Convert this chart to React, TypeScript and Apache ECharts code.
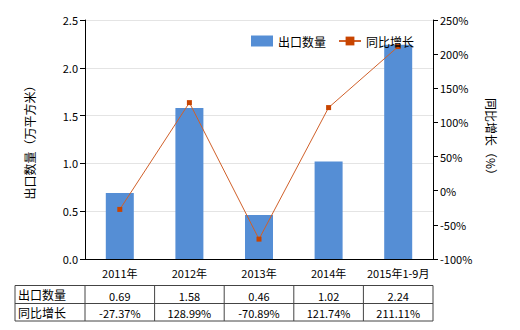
import React, { useEffect, useRef } from "react";
import * as echarts from "echarts";

const categories = ["2011年", "2012年", "2013年", "2014年", "2015年1-9月"];
const exportQty = [0.69, 1.58, 0.46, 1.02, 2.24];
const yoyGrowth = [-27.37, 128.99, -70.89, 121.74, 211.11];
const qtyLabels = ["0.69", "1.58", "0.46", "1.02", "2.24"];
const growthLabels = ["-27.37%", "128.99%", "-70.89%", "121.74%", "211.11%"];
const rowNames = ["出口数量", "同比增长"];

const FONT = "'Noto Sans CJK SC', 'DejaVu Sans', sans-serif";

export default function App() {
  const ref = useRef<HTMLDivElement>(null);
  useEffect(() => {
    if (!ref.current) return;
    const chart = echarts.init(ref.current, undefined, { renderer: "svg" });
    const gridLeft = 85;
    const gridRight = 433;
    const colW = (gridRight - gridLeft) / categories.length;
    const tableLeft = 15;
    const rowTops = [285.5, 303.5, 321];
    const lineStyle = { stroke: "#444", lineWidth: 1 };
    const graphics: any[] = [];
    rowTops.forEach((y) => {
      graphics.push({ type: "line", shape: { x1: tableLeft, y1: y, x2: gridRight, y2: y }, style: lineStyle, silent: true });
    });
    const xs = [tableLeft, ...categories.map((_, i) => gridLeft + i * colW), gridRight];
    xs.forEach((x) => {
      graphics.push({ type: "line", shape: { x1: x, y1: rowTops[0], x2: x, y2: rowTops[2] }, style: lineStyle, silent: true });
    });
    const rows = [qtyLabels, growthLabels];
    rows.forEach((vals, r) => {
      const cy = (rowTops[r] + rowTops[r + 1]) / 2;
      graphics.push({
        type: "text",
        x: tableLeft + 3,
        y: cy,
        style: { text: rowNames[r], font: `12px ${FONT}`, fill: "#000", textVerticalAlign: "middle", textAlign: "left" },
      });
      vals.forEach((v, i) => {
        graphics.push({
          type: "text",
          x: gridLeft + (i + 0.5) * colW,
          y: cy + 1,
          style: { text: v, font: `11px ${FONT}`, fill: "#000", textVerticalAlign: "middle", textAlign: "center" },
        });
      });
    });

    chart.setOption({
      animation: false,
      textStyle: { fontFamily: FONT },
      grid: { left: gridLeft, right: 520 - gridRight, top: 20, bottom: 71, containLabel: false },
      legend: {
        left: 246,
        top: 30,
        itemWidth: 22,
        itemHeight: 11,
        itemGap: 12,
        textStyle: { fontSize: 12, color: "#000", fontFamily: FONT },
        data: [
          { name: "出口数量", icon: "rect" },
          { name: "同比增长" },
        ],
      },
      xAxis: {
        type: "category",
        data: categories,
        axisLine: { lineStyle: { color: "#000" } },
        axisTick: { alignWithLabel: true, length: 5, lineStyle: { color: "#000" } },
        axisLabel: { color: "#000", fontSize: 11, margin: 8, interval: 0 },
      },
      yAxis: [
        {
          type: "value",
          min: 0,
          max: 2.5,
          interval: 0.5,
          name: "出口数量（万平方米）",
          nameLocation: "middle",
          nameGap: 50,
          nameRotate: 90,
          nameTextStyle: { color: "#000", fontSize: 12 },
          axisLine: { show: true, lineStyle: { color: "#000" } },
          axisTick: { show: true, length: 5, lineStyle: { color: "#000" } },
          axisLabel: { color: "#000", fontSize: 11, margin: 7, formatter: (v: number) => v.toFixed(1) },
          splitLine: { show: true, lineStyle: { color: "#e4e4e4" } },
        },
        {
          type: "value",
          min: -100,
          max: 250,
          interval: 50,
          position: "right",
          name: "同比增长（%）",
          nameLocation: "middle",
          nameGap: 52,
          nameRotate: -90,
          nameTextStyle: { color: "#000", fontSize: 12 },
          axisLine: { show: true, lineStyle: { color: "#000" } },
          axisTick: { show: true, length: 5, lineStyle: { color: "#000" } },
          axisLabel: { color: "#000", fontSize: 11, margin: 7, formatter: "{value}%" },
          splitLine: { show: false },
        },
      ],
      series: [
        {
          name: "出口数量",
          type: "bar",
          data: exportQty,
          barWidth: 28,
          itemStyle: { color: "#558ed5" },
          yAxisIndex: 0,
        },
        {
          name: "同比增长",
          type: "line",
          data: yoyGrowth,
          yAxisIndex: 1,
          symbol: "rect",
          symbolSize: 5,
          lineStyle: { color: "#d0602a", width: 1 },
          itemStyle: { color: "#c84400" },
        },
      ],
      graphic: graphics,
    });
    return () => chart.dispose();
  }, []);
  return <div ref={ref} style={{ width: 520, height: 330, position: "absolute", left: 0, top: 0 }} />;
}
